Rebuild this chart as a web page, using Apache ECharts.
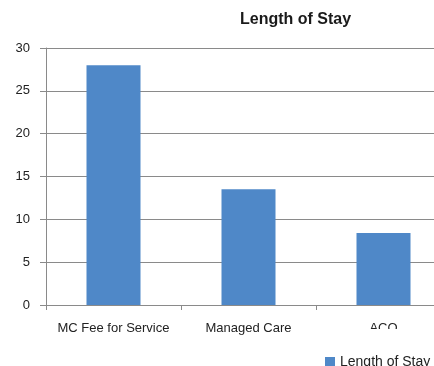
<!DOCTYPE html>
<html><head><meta charset="utf-8">
<script src="https://cdn.jsdelivr.net/npm/echarts@6/dist/echarts.min.js"></script>
<style>html,body{margin:0;padding:0;background:#fff}#c{width:434px;height:366px}</style>
</head><body><div id="c"></div>
<script>
const categories = ["MC Fee for Service", "Managed Care", "ACO"];
const lengthOfStay = [28, 13.5, 8.4];
const yTicks = [0, 5, 10, 15, 20, 25, 30];
const seriesName = "Length of Stay";
const titleText = "Length of Stay";

const font = "'Liberation Sans', Arial, sans-serif";
const chart = echarts.init(document.getElementById('c'), null, {renderer: 'canvas'});
chart.setOption({
  animation: false,
  title: {text: titleText, left: 235, top: 7,
    textStyle: {fontFamily: font, fontSize: 16, fontWeight: 'bold', color: '#1a1a1a'}},
  legend: {data: [seriesName], left: 320, top: 350, itemWidth: 10, itemHeight: 10, itemGap: 5,
    icon: 'rect', textStyle: {fontFamily: font, fontSize: 14, color: '#222'}},
  grid: {left: 46, width: 405, top: 48, height: 257, containLabel: false, outerBoundsMode: 'none'},
  xAxis: {type: 'category', data: categories,
    axisLine: {lineStyle: {color: '#8a8a8a'}},
    axisTick: {show: true, length: 5, lineStyle: {color: '#8a8a8a'}},
    axisLabel: {fontFamily: font, fontSize: 13, color: '#222', margin: 17, interval: 0}},
  yAxis: {type: 'value', min: yTicks[0], max: yTicks[yTicks.length-1], interval: 5,
    axisLine: {show: true, lineStyle: {color: '#8a8a8a'}},
    axisTick: {show: true, length: 6, lineStyle: {color: '#8a8a8a'}},
    splitLine: {lineStyle: {color: '#8a8a8a'}},
    axisLabel: {fontFamily: font, fontSize: 13, color: '#222', margin: 16}},
  series: [{name: seriesName, type: 'bar', data: lengthOfStay, barWidth: '40%',
    itemStyle: {color: '#4f88c8'}}],
  graphic: [{type: 'rect', shape: {x: 350, y: 329, width: 60, height: 12}, style: {fill: '#fff'}, z: 100}]
});
</script></body></html>
